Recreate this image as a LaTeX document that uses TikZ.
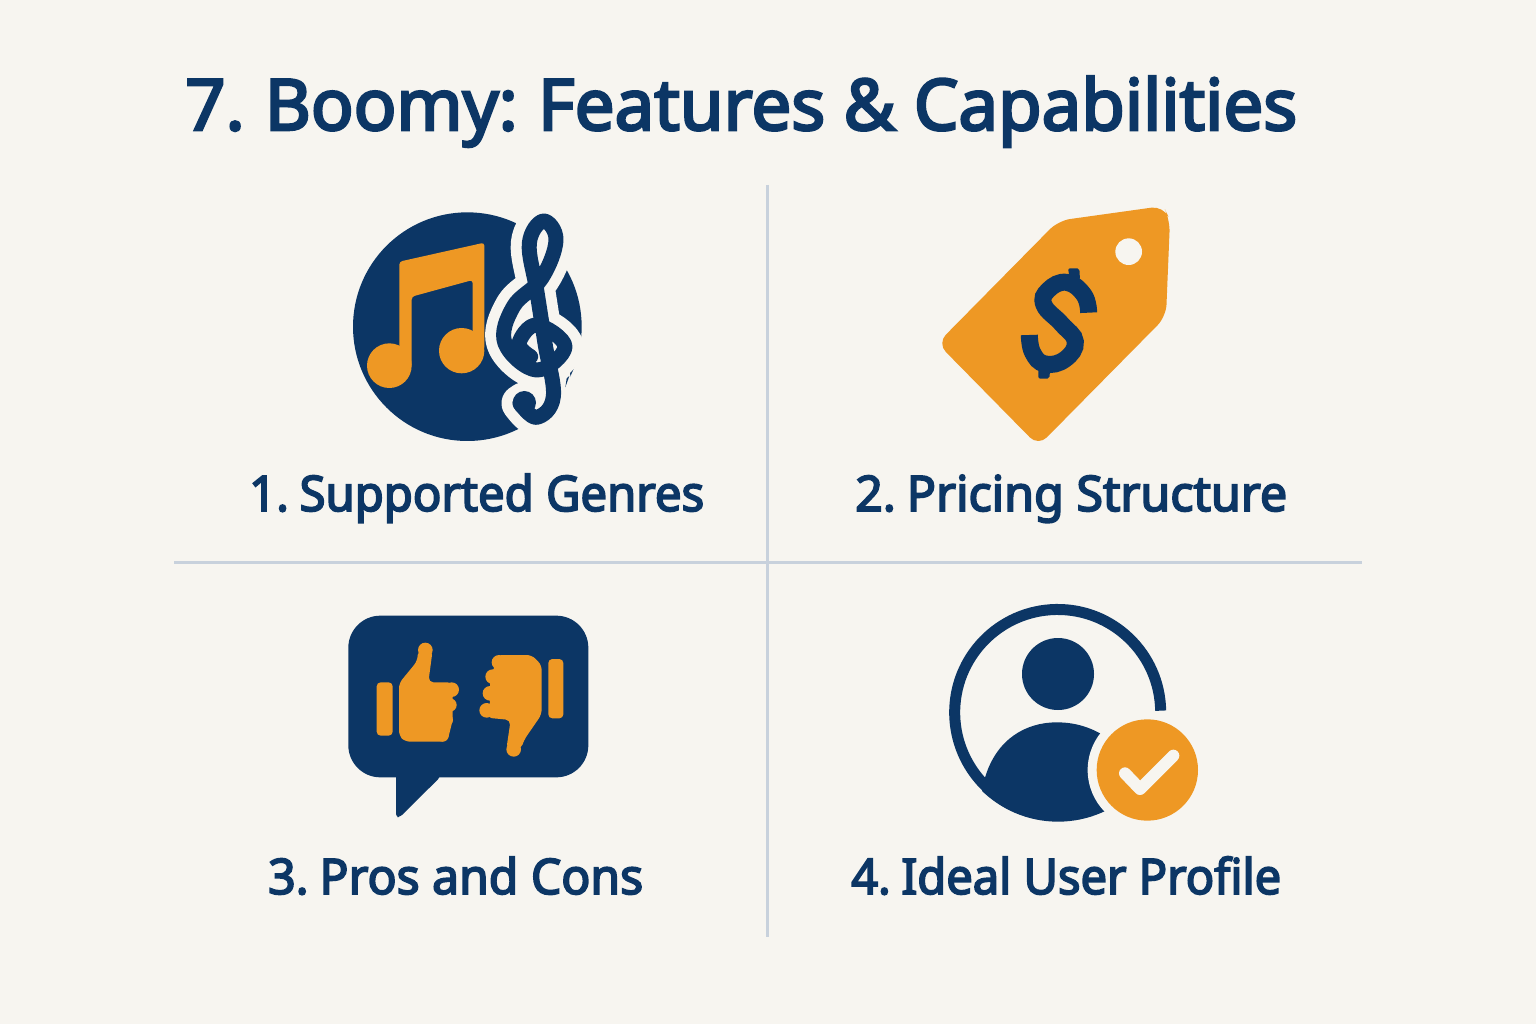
\documentclass[tikz,border=0pt]{standalone}
\usepackage{fontspec}
\setmainfont{Noto Sans}[AutoFakeBold=3.6]
\definecolor{navy}{HTML}{0C3665}
\definecolor{amber}{HTML}{EE9824}
\definecolor{paper}{HTML}{F7F5F0}
\definecolor{rule}{HTML}{C8D1DC}
\tikzset{
  divider/.style={draw=rule,line width=3pt},
  label/.style={anchor=base west,inner sep=0pt,text=navy,font=\bfseries},
  zoomed/.style={x=0.33333pt,y=-0.33333pt},
  clef/.style={line width=#1,line cap=round,line join=round}
}
\newcommand{\lab}[6]{\node[label] (#1) at (#2,#3) {\fontsize{#5}{#5}\selectfont\resizebox{#4pt}{\height}{#6}};}
\begin{document}
\begin{tikzpicture}[x=1pt,y=-1pt]
\useasboundingbox (0,0) rectangle (1536,1024);
\fill[paper] (0,0) rectangle (1536,1024);
\draw[divider] (767,185) -- (767,937);
\draw[divider] (174,562) -- (1362,562);
\lab{title}{185}{130}{1112}{71}{7.\hspace{-.06em} Boomy:\hspace{-.06em} Features \& Capabilities}
\lab{one}{249}{511}{455}{49}{1.\hspace{-.12em} Supported Genres}
\lab{two}{855}{511}{432}{49}{2.\hspace{-.12em} Pricing Structure}
\lab{three}{268}{894}{375}{49}{3.\hspace{-.12em} Pros and Cons}
\lab{four}{851}{894}{430}{49}{4.\hspace{-.12em} Ideal User Profile}
% music icon
\begin{scope}[shift={(340,200)},zoomed]
\fill[navy] (382,380) circle [radius=343];
\begin{scope}[amber]
\fill (148,497) circle [radius=67];
\fill (365,452) circle [radius=68];
\fill[rounded corners=3pt] (178,560) -- (178,185) -- (433,128) -- (433,450) -- (398,450) -- (398,240) -- (215,290) -- (215,500) -- cycle;
\end{scope}
\def\clefpath{plot[smooth,tension=0.65] coordinates {(572,470) (537,430) (590,375) (675,440) (590,510) (495,430) (520,320) (605,235) (648,120) (610,63) (568,130) (590,270) (615,430) (640,590) (590,652) (540,610)}}
\draw[paper,clef=37pt] \clefpath;
\fill[paper] (555,610) circle [radius=64];
\draw[navy,clef=15pt] \clefpath;
\fill[navy] (553,608) circle [radius=35];
\fill[navy] (676,562) -- (680,535) -- (688,528) -- cycle;
\end{scope}
% price tag
\begin{scope}[shift={(930,200)},zoomed]
\fill[amber,rounded corners=12pt] (385,62) -- (700,18) -- (720,60) -- (708,350) -- (325,738) -- (22,430) -- cycle;
\fill[paper] (596,155) circle [radius=40];
\draw[navy,line width=17pt] plot[smooth,tension=0.75] coordinates {(476,338) (462,285) (410,247) (355,270) (342,315) (395,372) (436,425) (405,478) (345,492) (308,458) (298,405)};
\fill[navy,rounded corners=2pt] (420,240) -- (414,205) -- (448,205) -- (450,240) -- cycle;
\fill[navy,rounded corners=2pt] (325,490) -- (325,536) -- (358,536) -- (362,490) -- cycle;
\end{scope}
% speech bubble
\begin{scope}[shift={(340,605)},zoomed]
\fill[navy,rounded corners=32pt] (25,32) rectangle (745,517);
\fill[navy,rounded corners=3pt] (168,500) -- (168,636) -- (180,636) -- (300,517) -- (300,500) -- cycle;
\begin{scope}[amber]
\fill[rounded corners=4pt] (110,232) rectangle (158,392);
\fill[rounded corners=4pt] (625,162) rectangle (670,340);
% thumb up
\fill[rounded corners=5pt] (177,235) -- (232,168) -- (234,135) -- (278,135) -- (265,232) -- (338,232) -- (338,345) -- (322,410) -- (195,410) -- (177,392) -- cycle;
\fill (256,135) circle [radius=22];
\fill (335,254) circle [radius=22];
\fill (330,300) circle [radius=20];
\fill (320,345) circle [radius=19];
\fill (308,392) circle [radius=18];
% thumb down
\fill[rounded corners=5pt] (470,150) -- (575,150) -- (605,180) -- (605,328) -- (552,405) -- (543,433) -- (499,433) -- (512,345) -- (440,338) -- (450,300) -- (450,215) -- (470,172) -- cycle;
\fill (521,433) circle [radius=22];
\fill (477,172) circle [radius=22];
\fill (458,215) circle [radius=22];
\fill (450,265) circle [radius=22];
\fill (440,316) circle [radius=22];
\end{scope}
\end{scope}
% person
\begin{scope}[shift={(940,595)},zoomed]
\fill[navy] (354,237) circle [radius=108];
\begin{scope}
\clip (354,352) circle [radius=328];
\fill[navy] (135,548) .. controls (170,430) and (260,382) .. (350,382) .. controls (420,382) and (470,405) .. (520,440) -- (560,700) -- (100,700) -- cycle;
\end{scope}
\draw[navy,line width=11pt] (662,347) arc [start angle=-1,end angle=-285,radius=309];
\fill[paper] (622,525) circle [radius=179];
\fill[amber] (622,525) circle [radius=152];
\draw[paper,line width=12pt,line cap=round,line join=round] (555,535) -- (600,582) -- (700,482);
\end{scope}
\end{tikzpicture}
\end{document}
